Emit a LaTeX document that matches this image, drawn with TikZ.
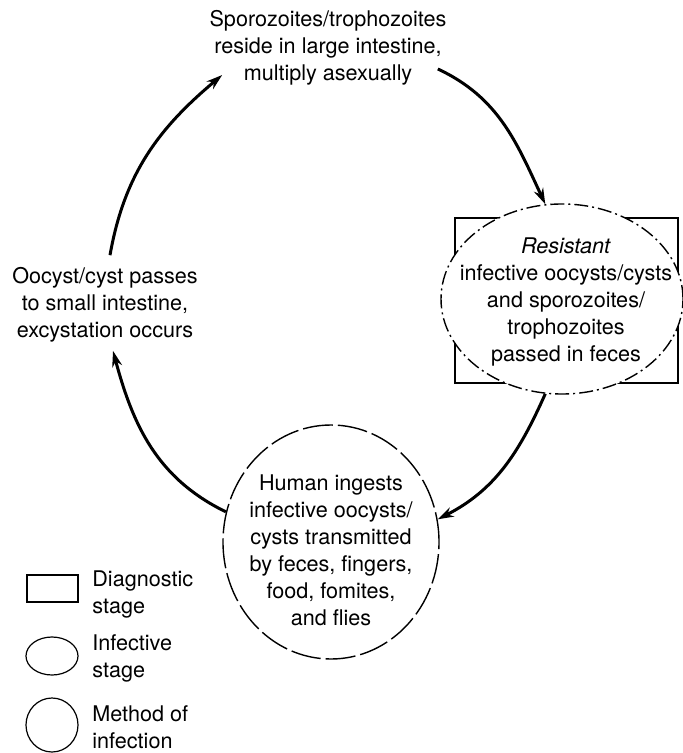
\documentclass[tikz,border=0pt]{standalone}
\usepackage{fontspec}
\setmainfont{TeX Gyre Heros}
\usetikzlibrary{shapes.geometric,arrows.meta,calc}

\begin{document}
\begin{tikzpicture}[x=0.5pt,y=0.5pt,
    teks/.style={align=center,inner sep=0pt,font=\fontsize{10.8}{13.5}\selectfont},
    ket/.style={anchor=west,align=left,inner sep=0pt,font=\fontsize{10.8}{13.5}\selectfont},
    panah/.style={line width=1.5pt,-{Stealth[length=8pt,width=5pt]}},
    simbol/.style={draw,line width=0.6pt,inner sep=0pt}]
    \useasboundingbox (0,0) rectangle (682,-753);

    % Tahap diagnostik dan infektif
    \node[draw,line width=0.9pt,minimum width=111.5pt,minimum height=82.5pt] (diag) at (566.5,-300.5) {};
    \node[ellipse,draw,fill=white,line width=0.7pt,dash pattern=on 7pt off 2pt on 1pt off 2pt,
          minimum width=121pt,minimum height=95pt,inner sep=0pt] (tahap) at (562,-299) {};
    \node[teks] (resisten) at (566,-302) {\textit{Resistant}\\infective oocysts/cysts\\and sporozoites/\\trophozoites\\passed in feces};

    % Metode infeksi
    \node[ellipse,draw,fill=white,line width=0.7pt,dash pattern=on 15pt off 2.5pt,
          minimum width=108pt,minimum height=117pt,inner sep=0pt] (metode) at (331,-542) {};
    \node[teks] (telan) at (331,-550) {Human ingests\\infective oocysts/\\cysts transmitted\\by feces, fingers,\\food, fomites,\\and flies};

    % Tahap dalam usus
    \node[teks] (usus) at (328,-48) {Sporozoites/trophozoites\\reside in large intestine,\\multiply asexually};
    \node[teks] (eksis) at (105,-305) {Oocyst/cyst passes\\to small intestine,\\excystation occurs};

    % Panah siklus
    \draw[panah] ($(usus.east)+(-9,-21)$) to[out=-25,in=115] (tahap.100);
    \draw[panah] (tahap.-100) to[out=-114,in=27] (metode.12);
    \draw[panah] (metode.164) to[out=154,in=-75] ($(eksis.south)+(8,-8)$);
    \draw[panah] ($(eksis.north)+(5,12)$) to[out=80,in=-140] ($(usus.west)+(13,-27)$);

    % Keterangan
    \node[simbol,minimum width=25.5pt,minimum height=13.5pt] (kotak) at (52.5,-588.5) {};
    \node[simbol,ellipse,minimum width=26pt,minimum height=19pt] (oval) at (52,-656) {};
    \node[simbol,ellipse,minimum width=26pt,minimum height=27pt] (bulat) at (52,-725) {};
    \node[ket] (ketdiag) at (92,-594) {Diagnostic\\stage};
    \node[ket] (ketinf) at (92,-658) {Infective\\stage};
    \node[ket] (ketmet) at (92,-727) {Method of\\infection};
\end{tikzpicture}
\end{document}
